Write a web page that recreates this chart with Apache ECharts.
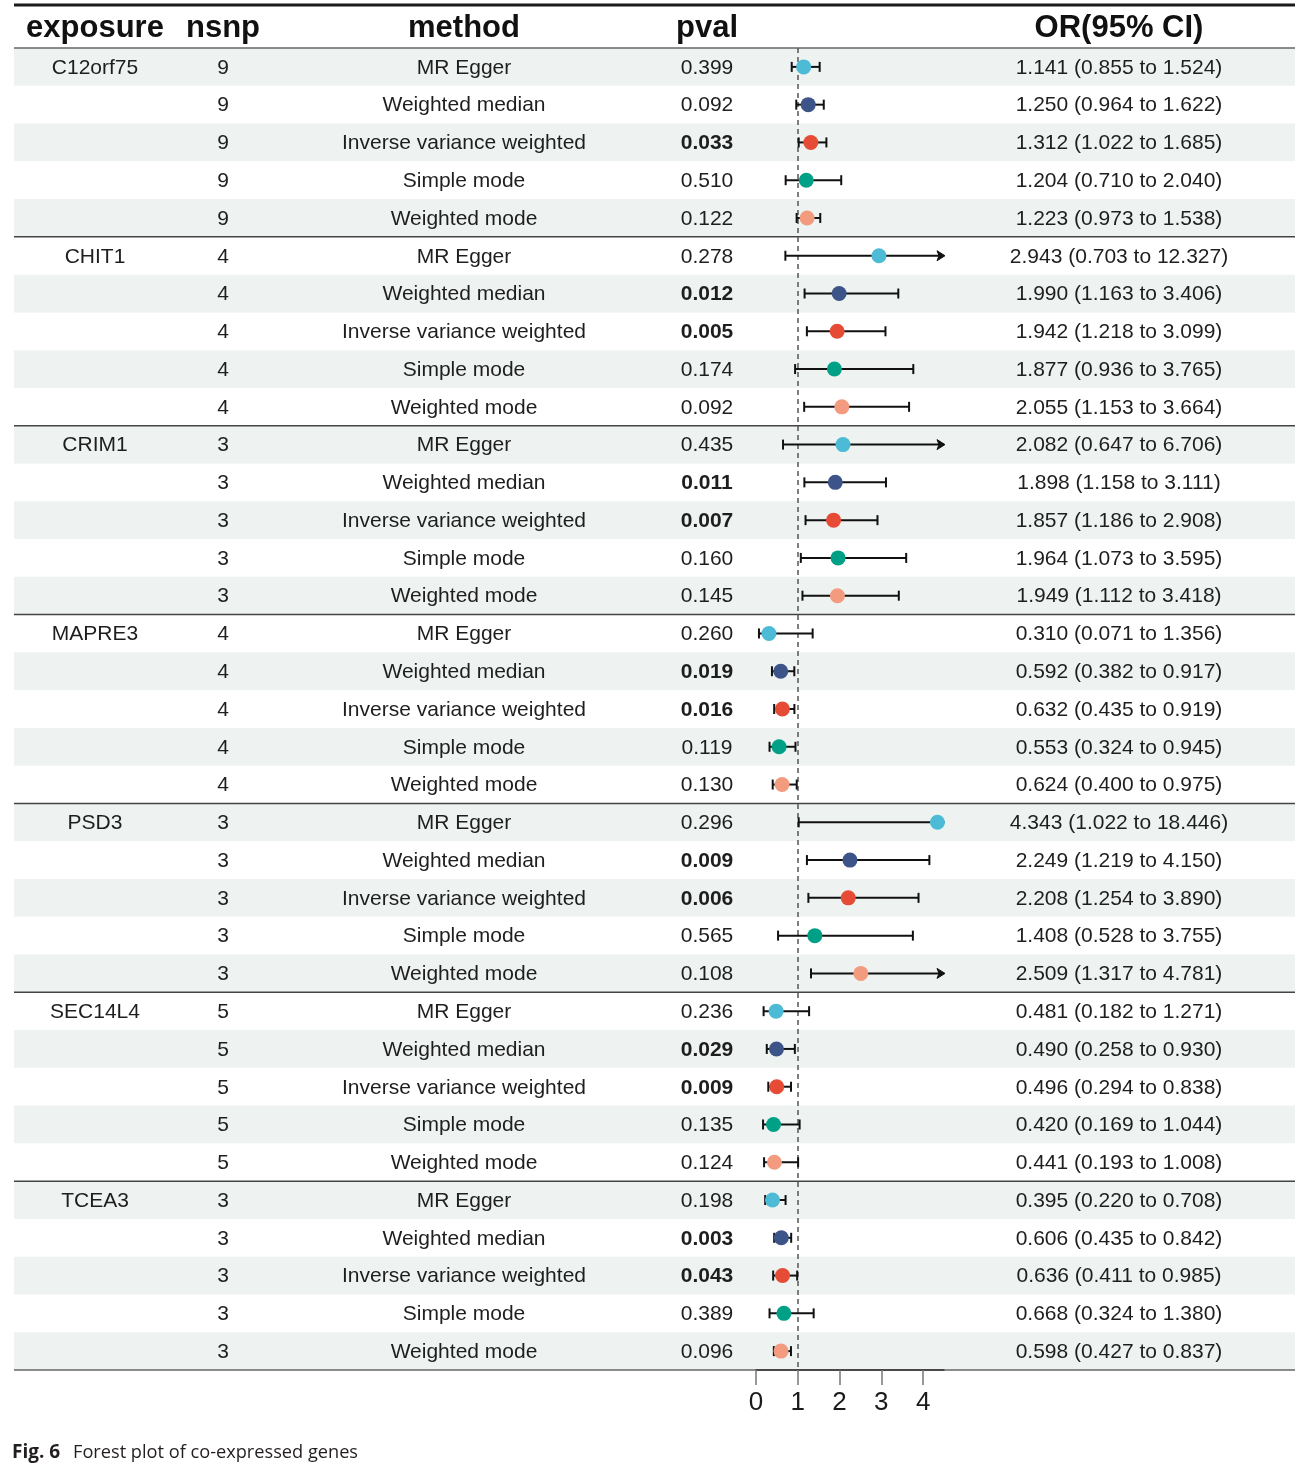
<!DOCTYPE html>
<html><head><meta charset="utf-8">
<script src="https://cdn.jsdelivr.net/npm/echarts@6/dist/echarts.min.js"></script>
<style>html,body{margin:0;padding:0;background:#fff}#c{width:1305px;height:1478px}</style>
</head><body><div id="c"></div>
<script>
// ---------------- data ----------------
const exposures = ['C12orf75', 'CHIT1', 'CRIM1', 'MAPRE3', 'PSD3', 'SEC14L4', 'TCEA3'];
const nsnpByExposure = [9, 4, 3, 4, 3, 5, 3];
const methods = ['MR Egger', 'Weighted median', 'Inverse variance weighted', 'Simple mode', 'Weighted mode'];
const pvals = [
  0.399, 0.092, 0.033, 0.510, 0.122,
  0.278, 0.012, 0.005, 0.174, 0.092,
  0.435, 0.011, 0.007, 0.160, 0.145,
  0.260, 0.019, 0.016, 0.119, 0.130,
  0.296, 0.009, 0.006, 0.565, 0.108,
  0.236, 0.029, 0.009, 0.135, 0.124,
  0.198, 0.003, 0.043, 0.389, 0.096
];
const orVals = [
  1.141, 1.250, 1.312, 1.204, 1.223,
  2.943, 1.990, 1.942, 1.877, 2.055,
  2.082, 1.898, 1.857, 1.964, 1.949,
  0.310, 0.592, 0.632, 0.553, 0.624,
  4.343, 2.249, 2.208, 1.408, 2.509,
  0.481, 0.490, 0.496, 0.420, 0.441,
  0.395, 0.606, 0.636, 0.668, 0.598
];
const ciLow = [
  0.855, 0.964, 1.022, 0.710, 0.973,
  0.703, 1.163, 1.218, 0.936, 1.153,
  0.647, 1.158, 1.186, 1.073, 1.112,
  0.071, 0.382, 0.435, 0.324, 0.400,
  1.022, 1.219, 1.254, 0.528, 1.317,
  0.182, 0.258, 0.294, 0.169, 0.193,
  0.220, 0.435, 0.411, 0.324, 0.427
];
const ciHigh = [
  1.524, 1.622, 1.685, 2.040, 1.538,
  12.327, 3.406, 3.099, 3.765, 3.664,
  6.706, 3.111, 2.908, 3.595, 3.418,
  1.356, 0.917, 0.919, 0.945, 0.975,
  18.446, 4.150, 3.890, 3.755, 4.781,
  1.271, 0.930, 0.838, 1.044, 1.008,
  0.708, 0.842, 0.985, 1.380, 0.837
];
const xTicks = [0, 1, 2, 3, 4];
const headers = ['exposure', 'nsnp', 'method', 'pval', 'OR(95% CI)'];
const methodColors = ['#4DBBD5', '#3C5488', '#E64B35', '#00A087', '#F39B7F'];

// ---------------- layout ----------------
const TOP = 48, BOTTOM = 108;
const FONT = '"Liberation Sans", Arial, Helvetica, sans-serif';
const CAPFONT = '"Open Sans", "Noto Sans", sans-serif';
const nM = methods.length;
const nRows = exposures.length * nM;
const rowCats = Array.from({length: nRows}, (_, i) => String(i));
const rowIdx = Array.from({length: nRows}, (_, i) => i);
const xMax = 4.5;
const cols = [
  {c: 95, w: 150}, {c: 223, w: 80}, {c: 464, w: 300}, {c: 707, w: 90}, {c: 1119, w: 260}
];
const forest = {left: 756, width: 188};

const grids = [{left: 14, right: 10, top: TOP, bottom: BOTTOM}];
cols.forEach(col => grids.push({left: col.c - col.w / 2, width: col.w, top: TOP, bottom: BOTTOM}));
grids.push({left: forest.left, width: forest.width, top: TOP, bottom: BOTTOM});
const FG = grids.length - 1;

const xAxes = grids.map((g, gi) => {
  if (gi === FG) {
    return {
      gridIndex: gi, type: 'value', min: 0, max: xMax, position: 'bottom',
      axisLine: {show: true, lineStyle: {color: '#333', width: 1.5}},
      axisTick: {show: true, customValues: xTicks, length: 15, lineStyle: {color: '#777', width: 1.5}},
      axisLabel: {show: true, customValues: xTicks, fontSize: 26, color: '#1a1a1a', margin: 20, fontFamily: FONT},
      splitLine: {show: false}
    };
  }
  return {gridIndex: gi, type: 'value', min: -1, max: 1, show: false};
});
const yAxes = grids.map((g, gi) => ({
  gridIndex: gi, type: 'category', data: rowCats, inverse: true, show: false
}));

function rowText(i, col) {
  const g = Math.floor(i / nM), m = i % nM;
  if (col === 0) return m === 0 ? exposures[g] : '';
  if (col === 1) return String(nsnpByExposure[g]);
  if (col === 2) return methods[m];
  if (col === 3) return pvals[i].toFixed(3);
  return orVals[i].toFixed(3) + ' (' + ciLow[i].toFixed(3) + ' to ' + ciHigh[i].toFixed(3) + ')';
}

const series = [];
// background rows / separators
series.push({
  type: 'custom', xAxisIndex: 0, yAxisIndex: 0, silent: true, z: 0,
  data: rowIdx.map(i => [0, i]),
  renderItem: (params, api) => {
    const i = api.value(1);
    const cy = api.coord([0, i])[1];
    const h = api.size([0, 1])[1];
    const x0 = params.coordSys.x, w = params.coordSys.width;
    const ch = [];
    if (i % 2 === 0) ch.push({type: 'rect', shape: {x: x0, y: cy - h / 2, width: w, height: h}, style: {fill: '#EEF2F1'}});
    if (i === 0) ch.push({type: 'line', shape: {x1: x0, y1: cy - h / 2, x2: x0 + w, y2: cy - h / 2}, style: {stroke: '#666', lineWidth: 1.5}});
    else if (i % nM === 0) ch.push({type: 'line', shape: {x1: x0, y1: cy - h / 2, x2: x0 + w, y2: cy - h / 2}, style: {stroke: '#444', lineWidth: 1.5}});
    if (i === nRows - 1) ch.push({type: 'line', shape: {x1: x0, y1: cy + h / 2, x2: x0 + w, y2: cy + h / 2}, style: {stroke: '#666', lineWidth: 1.5}});
    return {type: 'group', children: ch};
  }
});
// text columns
cols.forEach((col, ci) => {
  series.push({
    type: 'custom', xAxisIndex: ci + 1, yAxisIndex: ci + 1, silent: true, z: 5,
    data: rowIdx.map(i => [0, i]),
    renderItem: (params, api) => {
      const i = api.value(1);
      const t = rowText(i, ci);
      if (!t) return null;
      const p = api.coord([0, i]);
      const bold = ci === 3 && pvals[i] < 0.05;
      return {type: 'text', x: p[0], y: p[1] + 1, style: {
        text: t, align: 'center', verticalAlign: 'middle', fill: '#1E1E1E',
        fontSize: 21, fontFamily: FONT, fontWeight: bold ? 'bold' : 'normal'
      }};
    }
  });
});
// error bars
series.push({
  type: 'custom', xAxisIndex: FG, yAxisIndex: FG, silent: true, z: 6, clip: false,
  data: rowIdx.map(i => [i, ciLow[i], ciHigh[i]]),
  renderItem: (params, api) => {
    const i = api.value(0), lo = api.value(1), hi = api.value(2);
    const truncated = hi > xMax;
    const a = api.coord([lo, i]);
    const b = api.coord([truncated ? xMax : hi, i]);
    const y = a[1], cap = 5;
    const st = {stroke: '#111', lineWidth: 2};
    const ch = [
      {type: 'line', shape: {x1: a[0], y1: y, x2: truncated ? b[0] - 3 : b[0], y2: y}, style: st},
      {type: 'line', shape: {x1: a[0], y1: y - cap, x2: a[0], y2: y + cap}, style: st}
    ];
    if (truncated) {
      ch.push({type: 'polygon', shape: {points: [[b[0] + 1, y], [b[0] - 7, y - 5], [b[0] - 5, y], [b[0] - 7, y + 5]]}, style: {fill: '#111', stroke: '#111', lineWidth: 1}});
    } else {
      ch.push({type: 'line', shape: {x1: b[0], y1: y - cap, x2: b[0], y2: y + cap}, style: st});
    }
    return {type: 'group', children: ch};
  }
});
// points per method
methods.forEach((m, mi) => {
  const s = {
    type: 'scatter', name: m, xAxisIndex: FG, yAxisIndex: FG, z: 8, silent: true,
    symbol: 'circle', symbolSize: 15, itemStyle: {color: methodColors[mi], opacity: 1},
    data: rowIdx.filter(i => i % nM === mi).map(i => [orVals[i], String(i)])
  };
  if (mi === 0) {
    s.markLine = {
      silent: true, symbol: 'none', label: {show: false}, z: 4,
      lineStyle: {type: [5, 4], color: '#555', width: 1.5},
      data: [{xAxis: 1}]
    };
  }
  series.push(s);
});

const graphics = [
  {type: 'line', shape: {x1: 14, y1: 5, x2: 1295, y2: 5}, style: {stroke: '#1a1a1a', lineWidth: 3}}
];
cols.forEach((col, ci) => {
  graphics.push({type: 'text', x: col.c, y: 28, style: {
    text: headers[ci], align: 'center', verticalAlign: 'middle', fill: '#111',
    fontSize: 31, fontWeight: 'bold', fontFamily: FONT
  }});
});
graphics.push({type: 'text', x: 12, y: 1453, style: {
  text: 'Fig. 6', verticalAlign: 'middle', align: 'left',
  fontSize: 19, fontWeight: 'bold', fontFamily: CAPFONT, fill: '#231F20'
}});
graphics.push({type: 'text', x: 73, y: 1453, style: {
  text: 'Forest plot of co-expressed genes', verticalAlign: 'middle', align: 'left',
  fontSize: 18.2, fontFamily: CAPFONT, fill: '#231F20'
}});

const chart = echarts.init(document.getElementById('c'), null, {renderer: 'canvas'});
chart.setOption({
  backgroundColor: '#fff',
  animation: false,
  grid: grids,
  xAxis: xAxes,
  yAxis: yAxes,
  series: series,
  graphic: graphics
});
</script>
</body></html>
